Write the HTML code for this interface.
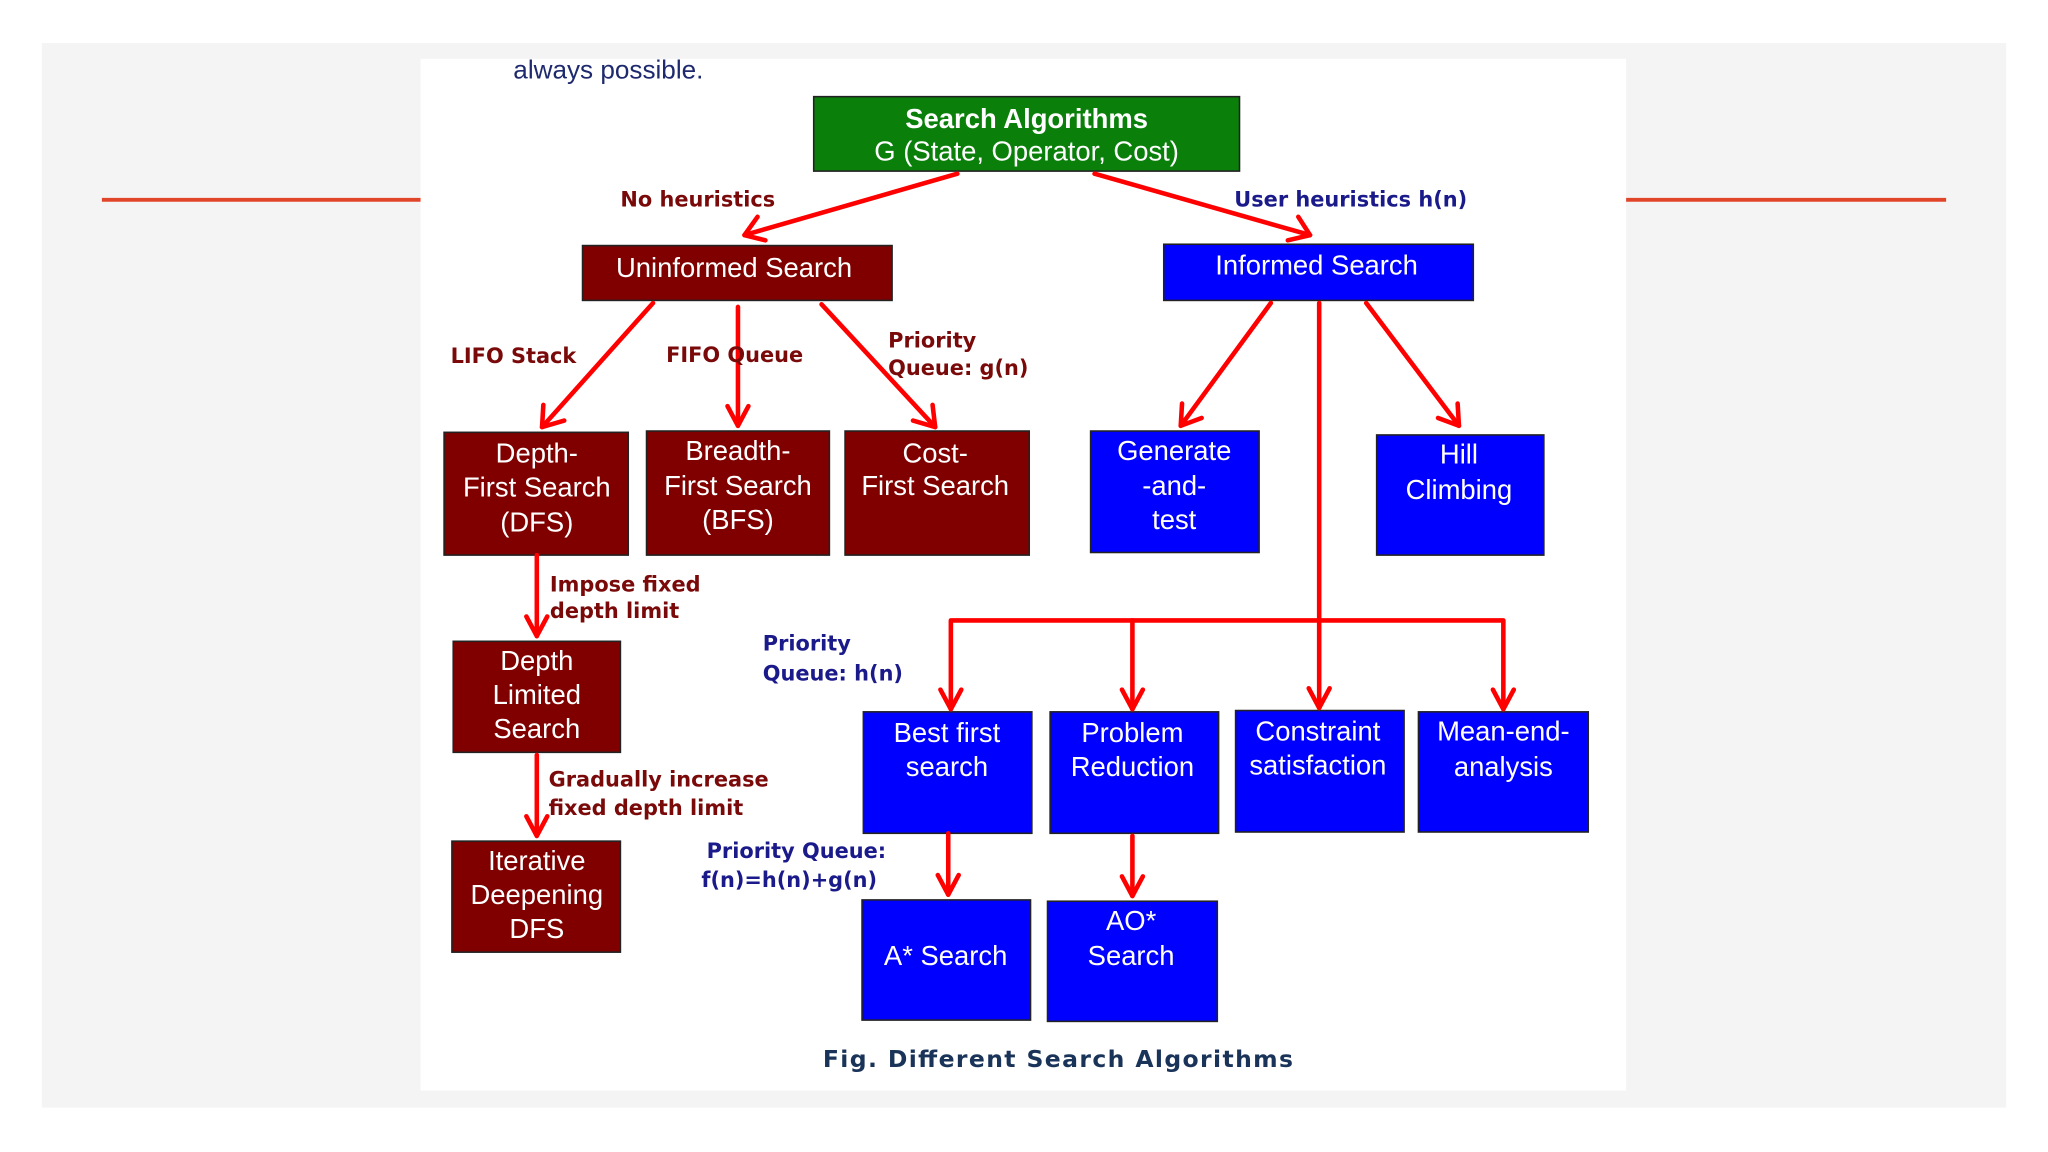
<!DOCTYPE html>
<html><head><meta charset="utf-8"><style>
html,body{margin:0;padding:0;background:#fff;}
svg{display:block;}
.bx{font-family:"Liberation Sans",sans-serif;font-size:21px;fill:#fff;text-anchor:middle;}
.lr{font-family:"DejaVu Sans",sans-serif;font-weight:bold;font-size:16px;fill:#7a0a0a;}
.lb{font-family:"DejaVu Sans",sans-serif;font-weight:bold;font-size:16px;fill:#1a1a8a;}
.ar{stroke:#ff0000;stroke-width:3.5;fill:none;stroke-linecap:round;stroke-linejoin:round;}
</style></head><body>
<svg width="2048" height="1152" viewBox="0 0 1568 882" preserveAspectRatio="none">
<rect x="0" y="0" width="1568" height="882" fill="#ffffff"/>
<rect x="32" y="33" width="1504" height="815" fill="#f4f4f4"/>
<rect x="322" y="45" width="923" height="790" fill="#ffffff"/>
<line x1="78" y1="153" x2="322" y2="153" stroke="#e0452a" stroke-width="3"/>
<line x1="1245" y1="153" x2="1490" y2="153" stroke="#e0452a" stroke-width="3"/>
<text x="393" y="60" font-family="Liberation Sans, sans-serif" font-size="20" fill="#1f2a6e">always possible.</text>

<!-- boxes -->
<g stroke="#222" stroke-width="1.2">
<rect x="623" y="74" width="326" height="57" fill="#0a800a"/>
<rect x="446" y="188" width="237" height="42" fill="#800000"/>
<rect x="891" y="187" width="237" height="43" fill="#0000ff"/>
<rect x="340" y="331" width="141" height="94" fill="#800000"/>
<rect x="495" y="330" width="140" height="95" fill="#800000"/>
<rect x="647" y="330" width="141" height="95" fill="#800000"/>
<rect x="835" y="330" width="129" height="93" fill="#0000ff"/>
<rect x="1054" y="333" width="128" height="92" fill="#0000ff"/>
<rect x="347" y="491" width="128" height="85" fill="#800000"/>
<rect x="346" y="644" width="129" height="85" fill="#800000"/>
<rect x="661" y="545" width="129" height="93" fill="#0000ff"/>
<rect x="804" y="545" width="129" height="93" fill="#0000ff"/>
<rect x="946" y="544" width="129" height="93" fill="#0000ff"/>
<rect x="1086" y="545" width="130" height="92" fill="#0000ff"/>
<rect x="660" y="689" width="129" height="92" fill="#0000ff"/>
<rect x="802" y="690" width="130" height="92" fill="#0000ff"/>
</g>

<text class="bx" x="786" y="98" font-weight="bold" font-size="22">Search Algorithms</text>
<text class="bx" x="786" y="123" font-size="22">G (State, Operator, Cost)</text>
<text class="bx" x="562" y="212">Uninformed Search</text>
<text class="bx" x="1008" y="210">Informed Search</text>
<text class="bx" x="411" y="354">Depth-</text><text class="bx" x="411" y="380">First Search</text><text class="bx" x="411" y="407">(DFS)</text>
<text class="bx" x="565" y="352">Breadth-</text><text class="bx" x="565" y="379">First Search</text><text class="bx" x="565" y="405">(BFS)</text>
<text class="bx" x="716" y="354">Cost-</text><text class="bx" x="716" y="379">First Search</text>
<text class="bx" x="899" y="352">Generate</text><text class="bx" x="899" y="379">-and-</text><text class="bx" x="899" y="405">test</text>
<text class="bx" x="1117" y="355">Hill</text><text class="bx" x="1117" y="382">Climbing</text>
<text class="bx" x="411" y="513">Depth</text><text class="bx" x="411" y="539">Limited</text><text class="bx" x="411" y="565">Search</text>
<text class="bx" x="411" y="666">Iterative</text><text class="bx" x="411" y="692">Deepening</text><text class="bx" x="411" y="718">DFS</text>
<text class="bx" x="725" y="568">Best first</text><text class="bx" x="725" y="594">search</text>
<text class="bx" x="867" y="568">Problem</text><text class="bx" x="867" y="594">Reduction</text>
<text class="bx" x="1009" y="567">Constraint</text><text class="bx" x="1009" y="593">satisfaction</text>
<text class="bx" x="1151" y="567">Mean-end-</text><text class="bx" x="1151" y="594">analysis</text>
<text class="bx" x="724" y="739">A* Search</text>
<text class="bx" x="866" y="712">AO*</text><text class="bx" x="866" y="739">Search</text>

<!-- arrows -->
<g class="ar">
<line x1="733" y1="133" x2="570" y2="180"/><polyline points="580,166 570,180 586,184"/>
<line x1="838" y1="133" x2="1003" y2="180"/><polyline points="986,184 1003,180 994,166"/>
<line x1="500" y1="232" x2="415" y2="327"/><polyline points="416,310 415,327 432,322"/>
<line x1="565" y1="235" x2="565" y2="326"/><polyline points="557,311 565,326 573,311"/>
<line x1="629" y1="233" x2="716" y2="327"/><polyline points="699,322 716,327 714,310"/>
<line x1="973" y1="232" x2="904" y2="326"/><polyline points="905,309 904,326 920,320"/>
<line x1="1046" y1="232" x2="1117" y2="326"/><polyline points="1101,320 1117,326 1116,309"/>
<line x1="1010" y1="232" x2="1010" y2="542"/>
<polyline points="728,543 728,475 1151,475 1151,543"/>
<line x1="867" y1="475" x2="867" y2="543"/>
<polyline points="720,528 728,543 736,528"/>
<polyline points="859,528 867,543 875,528"/>
<polyline points="1002,527 1010,542 1018,527"/>
<polyline points="1143,528 1151,543 1159,528"/>
<line x1="411" y1="425" x2="411" y2="487"/><polyline points="403,472 411,487 419,472"/>
<line x1="411" y1="578" x2="411" y2="640"/><polyline points="403,625 411,640 419,625"/>
<line x1="726" y1="638" x2="726" y2="685"/><polyline points="718,670 726,685 734,670"/>
<line x1="867" y1="640" x2="867" y2="686"/><polyline points="859,671 867,686 875,671"/>
</g>

<!-- labels -->
<text class="lr" x="475" y="158">No heuristics</text>
<text class="lb" x="945" y="158">User heuristics h(n)</text>
<text class="lr" x="345" y="278">LIFO Stack</text>
<text class="lr" x="510" y="277">FIFO Queue</text>
<text class="lr" x="680" y="266">Priority</text>
<text class="lr" x="680" y="287">Queue: g(n)</text>
<text class="lr" x="421" y="453">Impose fixed</text>
<text class="lr" x="421" y="473">depth limit</text>
<text class="lb" x="584" y="498">Priority</text>
<text class="lb" x="584" y="521">Queue: h(n)</text>
<text class="lr" x="420" y="602">Gradually increase</text>
<text class="lr" x="420" y="624">fixed depth limit</text>
<text class="lb" x="541" y="657">Priority Queue:</text>
<text class="lb" x="537" y="679">f(n)=h(n)+g(n)</text>
<text x="630" y="817" font-family="DejaVu Sans, sans-serif" font-weight="bold" font-size="18" fill="#1a3358" textLength="360">Fig. Different Search Algorithms</text>
</svg>
</body></html>
